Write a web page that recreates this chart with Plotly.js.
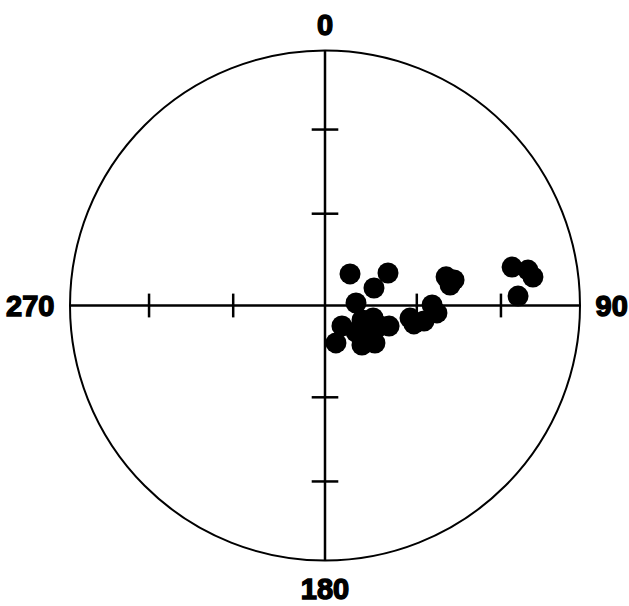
<!DOCTYPE html>
<html>
<head>
<meta charset="utf-8">
<script src="https://cdn.plot.ly/plotly-3.0.1.min.js"></script>
<style>
html,body{margin:0;padding:0;background:#fff;}
#chart{width:629px;height:606px;}
#chart svg text{stroke:#000;stroke-width:1.4px;paint-order:stroke;}
</style>
</head>
<body>
<div id="chart"></div>
<script>
// Azimuth (degrees clockwise from north) of each point
const pointAzimuth = [38.4, 62.7, 70.3, 85.4, 76.7, 78.8, 80.7, 78.4, 80.1, 82.2, 87.2,
  89.7, 93.8, 98.4, 101.7, 98.9, 140.3, 163.7, 111.4, 104.6, 110.4, 107.8, 126.6,
  136.9, 126.9, 117.5, 130.5];
// Projected radial distance (fraction of net radius)
const pointRadius = [0.158, 0.278, 0.204, 0.122, 0.488, 0.516, 0.497, 0.749, 0.808, 0.823, 0.758,
  0.420, 0.440, 0.337, 0.356, 0.393, 0.104, 0.153, 0.156, 0.195, 0.230, 0.264, 0.200,
  0.212, 0.245, 0.208, 0.160];

// Tick marks along the cross-hairs
const tickRadius = [0.36, 0.69];
const verticalAxisAngles = [0, 180];
const horizontalAxisAngles = [90, 270];
const directionLabels = ['0', '\u200990', '180', '270\u2009'];
const directionAngles = [0, 90, 180, 270];

const vtR = [], vtT = [], htR = [], htT = [];
verticalAxisAngles.forEach(a => tickRadius.forEach(r => { vtR.push(r); vtT.push(a); }));
horizontalAxisAngles.forEach(a => tickRadius.forEach(r => { htR.push(r); htT.push(a); }));

const traces = [
  {type: 'scatterpolar', mode: 'markers', r: vtR, theta: vtT, hoverinfo: 'skip',
   marker: {symbol: 'line-ew', size: 19, line: {color: '#000', width: 2.5}}},
  {type: 'scatterpolar', mode: 'markers', r: htR, theta: htT, hoverinfo: 'skip',
   marker: {symbol: 'line-ns', size: 17, line: {color: '#000', width: 2.5}}},
  {type: 'scatterpolar', mode: 'markers', r: pointRadius, theta: pointAzimuth,
   marker: {size: 21, color: '#000', line: {width: 0}}}
];

const cx = 325, cy = 305.5, R = 255, W = 629, H = 606;
const layout = {
  width: W, height: H,
  margin: {l: 0, r: 0, t: 0, b: 0},
  paper_bgcolor: '#fff',
  showlegend: false,
  font: {family: '"Liberation Sans", Arial, sans-serif', color: '#000'},
  polar: {
    domain: {x: [(cx - R) / W, (cx + R) / W], y: [(H - cy - R) / H, (H - cy + R) / H]},
    bgcolor: '#fff',
    radialaxis: {range: [0, 1], visible: false, showgrid: false},
    angularaxis: {
      direction: 'clockwise', rotation: 90,
      tickmode: 'array', tickvals: directionAngles, ticktext: directionLabels,
      showline: true, linecolor: '#000', linewidth: 2,
      showgrid: true, gridcolor: '#000', gridwidth: 2.5,
      ticks: 'outside', ticklen: 3, tickcolor: 'rgba(0,0,0,0)',
      tickfont: {size: 29, weight: 'bold', family: '"Liberation Sans", Arial, sans-serif'}
    }
  }
};

Plotly.newPlot('chart', traces, layout, {displayModeBar: false, staticPlot: true});
</script>
</body>
</html>
